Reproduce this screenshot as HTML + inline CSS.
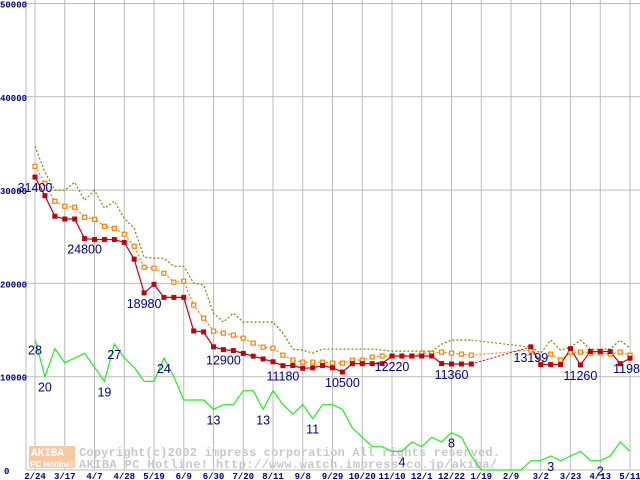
<!DOCTYPE html>
<html><head><meta charset="utf-8"><style>
body{margin:0;background:#fff;width:640px;height:480px;overflow:hidden}
svg{display:block}
</style></head><body>
<svg id="chart" width="640" height="480" viewBox="0 0 640 480" xmlns="http://www.w3.org/2000/svg">
<g id="grid"></g>
<g id="wm">
<rect x="29" y="446" width="46" height="22" fill="#f8c8a0"/>
<text x="31" y="456" font-family="Liberation Mono, monospace" font-weight="bold" font-size="11" fill="#fff">AKIBA</text>
<text x="30" y="467" font-family="Liberation Sans, sans-serif" font-weight="bold" font-size="8" fill="#fff">PC Hotline!</text>
<text x="79" y="456" textLength="421" lengthAdjust="spacing" font-family="Liberation Mono, monospace" font-weight="bold" font-size="12" fill="#c8c8c8">Copyright(c)2002 impress corporation All rights reserved.</text>
<text x="79" y="468" textLength="418" lengthAdjust="spacing" font-family="Liberation Mono, monospace" font-weight="bold" font-size="12" fill="#c8c8c8">AKIBA PC Hotline!  http://www.watch.impress.co.jp/akiba/</text>
</g>
<g id="series"></g>
<g id="labels"></g>
</svg>
<script>
const xLabels=["2/24","3/17","4/7","4/28","5/19","6/9","6/30","7/20","8/11","9/8","9/29","10/20","11/10","12/1","12/22","1/19","2/9","3/2","3/23","4/13","5/11"];
const yTicks=[0,10000,20000,30000,40000,50000];
const minPrice=[31400,29400,27200,26900,26900,24800,24700,24700,24700,24400,22600,18980,19900,18500,18500,18500,14900,14800,13200,12900,12800,12500,12200,11900,11600,11180,11200,10900,10950,11200,10950,10500,11400,11400,11400,11400,12220,12220,12220,12220,12220,11400,11360,11360,11360,null,null,null,null,null,13199,11300,11300,11300,13000,11260,12700,12700,12700,11400,11980];
const avgPrice=[32550,30730,28800,28270,28160,27090,26870,26120,25910,25270,23980,21730,21630,21090,20130,20240,17670,16270,14880,14670,14450,14130,13600,13170,13060,12310,11780,11560,11560,11560,11460,11460,11780,11780,12100,12210,12210,12210,12210,12530,12530,12630,12530,12420,12310,null,null,null,null,null,12850,11560,12420,11780,12630,12630,12530,12530,12420,12630,12310];
const maxPrice=[34690,31910,29980,29980,30840,28910,29980,28050,28800,26980,25910,22810,22700,22700,21840,21840,20020,19810,16810,15850,16810,15850,15850,15850,15850,14670,12960,12850,12530,12960,12960,12960,12960,12960,12960,12850,12740,12740,12740,12740,12740,13490,13920,13920,13920,null,null,null,null,null,13170,12530,13920,12850,13170,13920,12960,12960,12960,13920,13060];
const shopCount=[28,20,26,23,24,25,22,19,27,24,22,19,19,24,20,15,15,15,13,14,14,17,17,13,17,14,12,14,11,14,14,13,9,7,5,5,4,4,6,5,7,6,8,7,3,0,0,0,0,0,2,2,3,2,3,4,2,2,3,6,4];
const priceLabelIdx=[0,5,11,19,25,31,36,42,50,55,60];
const countLabelIdx=[0,1,7,8,13,18,23,28,37,42,52,57];
const NS="http://www.w3.org/2000/svg";
const X=i=>35+i*9.917;
const Y=v=>470-v*0.00933;
function mk(tag,attrs,parent){const e=document.createElementNS(NS,tag);for(const k in attrs)e.setAttribute(k,attrs[k]);parent.appendChild(e);return e;}
const grid=document.getElementById('grid'),ser=document.getElementById('series'),lab=document.getElementById('labels');
mk('line',{x1:26,y1:0,x2:26,y2:470,stroke:'#bbb'},grid);
yTicks.forEach(v=>{
  const l=mk('line',{x1:26,x2:640,y1:Y(v),y2:Y(v),stroke:'#bbb'},grid);
  
  
  const t=mk('text',{x:v===0?4:0,y:Y(v)+4,'font-family':'Liberation Mono, monospace','font-weight':'bold','font-size':'9',fill:'#000080'},grid);
  t.textContent=String(v);
  
  
});
xLabels.forEach((s,k)=>{
  const x=X(k*3);
  const l=mk('line',{x1:x,x2:x,y1:0,y2:470,stroke:'#bbb'},grid);
  
  
  const t=mk('text',{x:x,y:479,'text-anchor':'middle','font-family':'Liberation Mono, monospace','font-weight':'bold','font-size':'9',fill:'#000080'},grid);
  t.textContent=s;
  
  
});
function drawLine(data,scale,color,dash,name,gapDash){
  let seg=[],last=null;
  const segs=[];
  data.forEach((v,i)=>{
    if(v===null){if(seg.length)segs.push(seg);seg=[];return;}
    if(seg.length===0&&last!==null){
      const g=mk('line',{x1:X(last[0]),y1:Y(last[1]*scale),x2:X(i),y2:Y(v*scale),stroke:color,'stroke-dasharray':gapDash},ser);
      
      
    }
    seg.push([i,v]);last=[i,v];
  });
  if(seg.length)segs.push(seg);
  segs.forEach(s=>{
    const p=mk('polyline',{points:s.map(q=>X(q[0])+','+Y(q[1]*scale)).join(' '),fill:'none',stroke:color,'stroke-width':1.2,'stroke-dasharray':dash},ser);
    
    
  });
}
drawLine(shopCount,500,'#22ee22','none','shop-count-line','none');
drawLine(maxPrice,1,'#808000','2 2','max-price-line','2 2');
drawLine(avgPrice,1,'#ff8000','2 2','avg-price-line','2 2');
drawLine(minPrice,1,'#c00010','none','min-price-line','2 2');
avgPrice.forEach((v,i)=>{if(v===null)return;
  const r=mk('rect',{x:X(i)-2,y:Y(v)-2,width:4,height:4,fill:'#fff',stroke:'#ff8000','stroke-width':1.2},ser);
  
  
});
minPrice.forEach((v,i)=>{if(v===null)return;
  const r=mk('rect',{x:X(i)-2.5,y:Y(v)-2.5,width:5,height:5,fill:'#c00010'},ser);
  
  
});
function label(i,v,plotV,name){
  const t=mk('text',{x:X(i),y:Y(plotV)+15,'text-anchor':'middle','font-family':'Liberation Sans, sans-serif','font-size':'12.5',fill:'#000080'},lab);
  t.textContent=String(v);
  
  
}
priceLabelIdx.forEach(i=>label(i,minPrice[i],minPrice[i],'min-price-label'));
countLabelIdx.forEach(i=>label(i,shopCount[i],shopCount[i]*500,'shop-count-label'));
</script>
</body></html>
